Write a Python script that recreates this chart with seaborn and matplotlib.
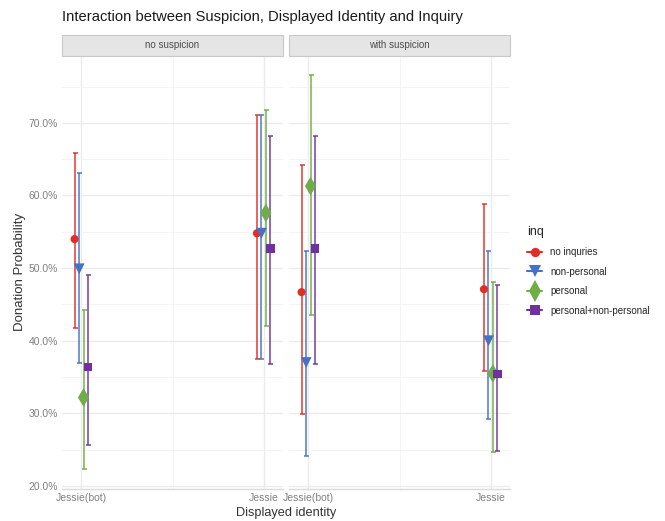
import numpy as np
import pandas as pd
import matplotlib
matplotlib.use('Agg')
import matplotlib.pyplot as plt
from matplotlib.lines import Line2D
from matplotlib.patches import Rectangle
from matplotlib.ticker import PercentFormatter, MultipleLocator
import seaborn as sns

# data (donation probability in %)
panels = ['no suspicion', 'with suspicion']
identities = ['Jessie(bot)', 'Jessie']
inq_levels = ['no inquries', 'non-personal', 'personal', 'personal+non-personal']

# order: Jessie(bot) x 4 inquiries, then Jessie x 4 inquiries
nosusp_mean = [54.0, 49.9, 32.2, 36.4, 54.8, 54.8, 57.6, 52.7]
nosusp_lo = [41.7, 37.0, 22.3, 25.6, 37.5, 37.5, 42.0, 36.8]
nosusp_hi = [65.8, 63.1, 44.3, 49.0, 71.1, 71.1, 71.7, 68.2]

withsusp_mean = [46.7, 37.0, 61.3, 52.7, 47.1, 40.0, 35.5, 35.4]
withsusp_lo = [29.9, 24.2, 43.5, 36.8, 35.9, 29.3, 24.7, 24.8]
withsusp_hi = [64.2, 52.4, 76.6, 68.2, 58.8, 52.4, 48.1, 47.7]

colors = ['#DF2E26', '#4472C4', '#70AD47', '#7030A0']
markers = ['o', 'v', 'd', 's']
msizes = [34, 62, 90, 36]
dodge = [-0.037, -0.012, 0.012, 0.037]

rows = []
for panel, mean, lo, hi in [(panels[0], nosusp_mean, nosusp_lo, nosusp_hi),
                            (panels[1], withsusp_mean, withsusp_lo, withsusp_hi)]:
    k = 0
    for i, ident in enumerate(identities):
        for j, inq in enumerate(inq_levels):
            rows.append({'suspicion': panel, 'identity': ident, 'inq': inq,
                         'x': i + dodge[j], 'prob': mean[k], 'lo': lo[k], 'hi': hi[k]})
            k += 1
df = pd.DataFrame(rows)

sns.set_theme(style='white')
plt.rcParams['font.family'] = ['Liberation Sans', 'DejaVu Sans']

W, H = 665, 521
fig = plt.figure(figsize=(W / 100, H / 100), dpi=100)
pal = dict(zip(inq_levels, colors))

axes = []
for p, left in zip(panels, [62, 289]):
    ax = fig.add_axes([left / W, (H - 489) / H, 221 / W, 433 / H])
    axes.append(ax)
    sub = df[df['suspicion'] == p]

    # error bars first, slightly lighter than the points
    for j, inq in enumerate(inq_levels):
        s = sub[sub['inq'] == inq]
        ax.errorbar(s['x'], s['prob'], yerr=[s['prob'] - s['lo'], s['hi'] - s['prob']],
                    fmt='none', ecolor=pal[inq], alpha=0.8, elinewidth=1.3,
                    capsize=1.8, capthick=1.3, zorder=2)

    sns.scatterplot(data=sub, x='x', y='prob', hue='inq', style='inq', size='inq',
                    hue_order=inq_levels, style_order=inq_levels, size_order=inq_levels,
                    palette=pal, markers=dict(zip(inq_levels, markers)),
                    sizes=dict(zip(inq_levels, msizes)), linewidth=0,
                    legend=False, ax=ax, zorder=3)

    ax.set_xlim(-0.106, 1.106)
    ax.set_ylim(19.6, 79.2)
    ax.set_xticks([0, 1])
    ax.set_xticklabels(identities)
    ax.xaxis.set_minor_locator(MultipleLocator(0.5))
    ax.yaxis.set_major_locator(MultipleLocator(10))
    ax.yaxis.set_minor_locator(MultipleLocator(5))
    ax.yaxis.set_major_formatter(PercentFormatter(100, decimals=1))
    ax.grid(which='major', color='#EBEBEB', lw=1.0, zorder=0)
    ax.grid(which='minor', color='#F3F3F3', lw=0.6, zorder=0)
    ax.set_axisbelow(True)
    for sp in ['top', 'right', 'left']:
        ax.spines[sp].set_visible(False)
    ax.spines['bottom'].set_color('#DADADA')
    ax.spines['bottom'].set_linewidth(1.0)
    ax.tick_params(axis='both', which='both', length=0, labelsize=7.5,
                   labelcolor='#808080', pad=3)
    ax.set_xlabel('')
    ax.set_ylabel('')

    # facet strip
    ax.add_patch(Rectangle((0, 1.0), 1, 21 / 433, transform=ax.transAxes,
                           facecolor='#E5E5E5', edgecolor='#C8C8C8', lw=0.8,
                           clip_on=False, zorder=5))
    ax.text(0.5, 1.0 + 10.5 / 433, p, transform=ax.transAxes, ha='center',
            va='center', fontsize=7, color='#4D4D4D', zorder=6)

axes[1].tick_params(axis='y', labelleft=False)

fig.text(62 / W, 1 - 17 / H, 'Interaction between Suspicion, Displayed Identity and Inquiry',
         ha='left', va='center', fontsize=10.6, color='#1A1A1A')
fig.text(20 / W, 1 - 272 / H, 'Donation Probability', rotation=90, ha='center',
         va='center', fontsize=9.5, color='#333333')
fig.text(286 / W, 1 - 513 / H, 'Displayed identity', ha='center', va='center',
         fontsize=9.2, color='#333333')

handles = [Line2D([], [], color=c, marker=m, lw=1.5,
                  markersize=np.sqrt(s) * 1.15, markeredgewidth=0)
           for c, m, s in zip(colors, markers, msizes)]
leg = fig.legend(handles, inq_levels, title='inq', loc='upper left',
                 bbox_to_anchor=(518 / W, 1 - 217 / H), frameon=False,
                 fontsize=7, title_fontsize=9, handlelength=1.6,
                 labelspacing=0.98, handletextpad=0.8)
leg._legend_box.align = 'left'

fig.savefig('out.png', dpi=100, facecolor='white')
